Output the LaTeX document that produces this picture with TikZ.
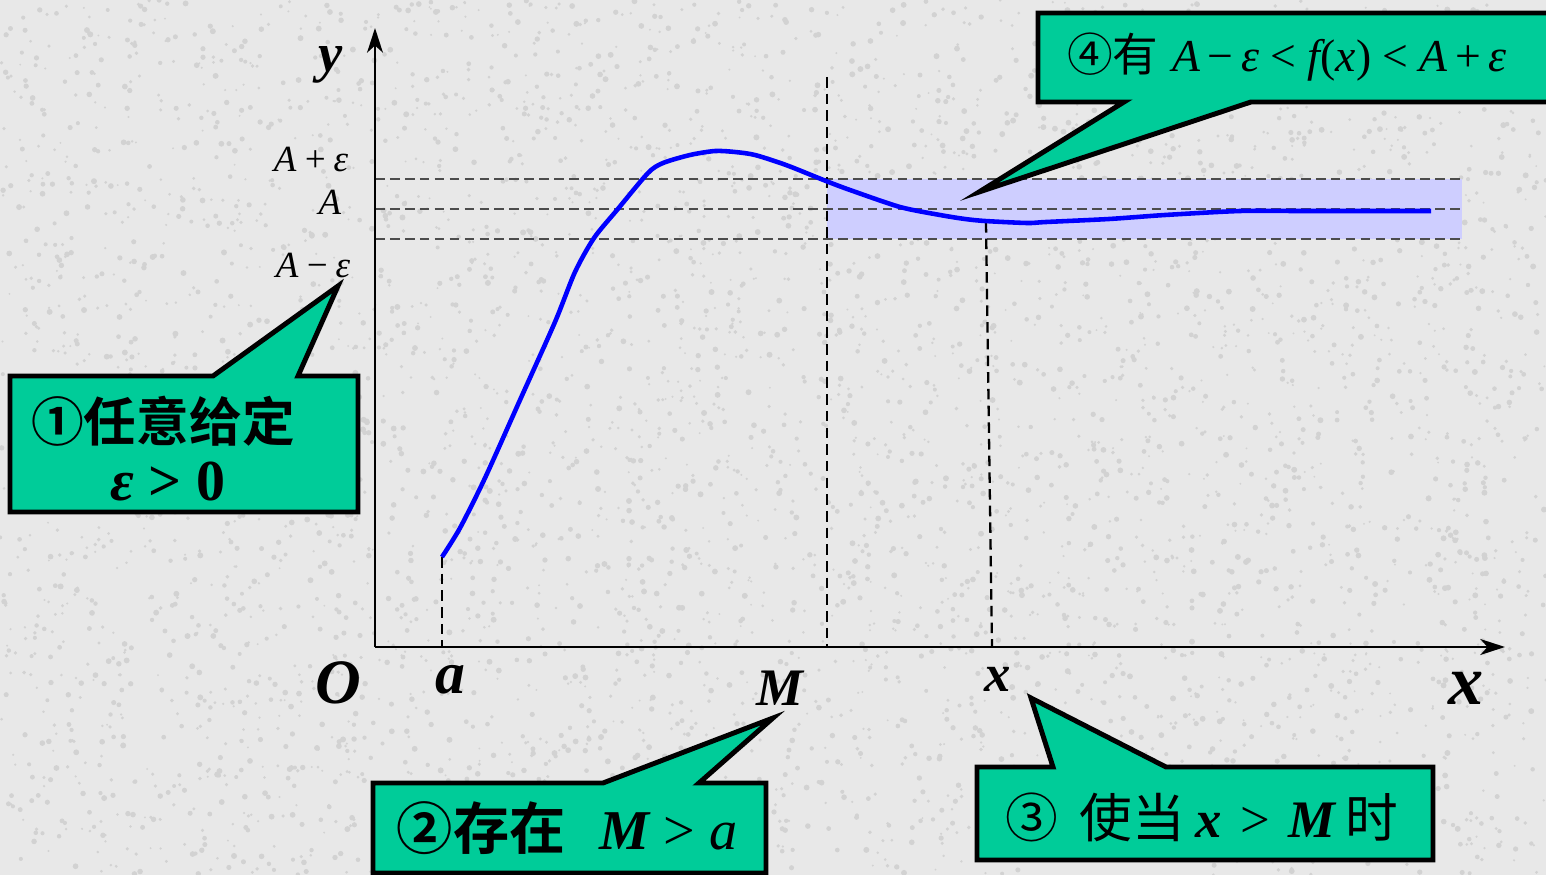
\documentclass[tikz,border=0pt]{standalone}
\usepackage{fontspec}
\setmainfont{Liberation Serif}
\newfontfamily\cjk{Noto Sans CJK SC}
\newfontfamily\cjkb{Noto Sans CJK SC Bold}
\usetikzlibrary{arrows.meta}
\definecolor{bgcol}{RGB}{232,232,232}
\definecolor{speckcol}{RGB}{210,210,210}
\definecolor{calloutgreen}{RGB}{0,204,153}
\definecolor{bandblue}{RGB}{206,206,255}
\newcommand{\fsz}[1]{\fontsize{#1}{#1}\selectfont}

\begin{document}
\begin{tikzpicture}[x=0.02cm, y=-0.02cm, >={Stealth[length=14pt,width=9pt,inset=4pt]},
    callout/.style={draw=black, line width=2.8pt, fill=calloutgreen, line join=miter},
    guide/.style={line width=0.8pt, black!70, dash pattern=on 5.5pt off 3pt},
    vguide/.style={line width=1.3pt, black, dash pattern=on 6pt off 3.5pt},
    axlbl/.style={inner sep=0pt, font=\bfseries\itshape},
    lvllbl/.style={inner sep=0pt, font=\itshape\fsz{21pt}},
    boxtxt/.style={inner sep=0pt, anchor=center}]
    \useasboundingbox (0,0) rectangle (1546,875);
    \fill[bgcol] (0,0) rectangle (1546,875);
    % granite texture
    \pgfmathsetseed{7}
    \foreach \i in {1,...,5000}
        \fill[speckcol] (1546*rnd, 875*rnd) circle ({1+2*rnd});

    % band around A
    \fill[bandblue] (827,179) rectangle (1462,239);
    \foreach \yy in {179,209,239}
        \draw[guide] (375,\yy) -- (1462,\yy);

    % axes
    \coordinate (O) at (375,647);
    \coordinate (xend) at (1505,647);
    \coordinate (yend) at (375,28);
    \draw[line width=1.4pt, ->] (O) -- (xend);
    \draw[line width=1.4pt, ->] (O) -- (yend);

    % vertical guides
    \draw[vguide] (442,557) -- (442,647);
    \draw[vguide] (827,77) -- (827,647);
    \draw[vguide] (986,222) -- (992,647);

    % the curve
    \draw[blue, line width=2.6pt, line join=round] plot[smooth, tension=0.45] coordinates {
        (442,557) (460,528) (485,478) (520,400) (555,322) (575,272) (594,238)
        (617,210) (648,173) (663,163) (690,155) (715,151) (735,152) (755,155)
        (786,165) (826,181) (850,190) (900,207) (940,215) (965,219) (985,221)
        (1027,223) (1046,222) (1109,219) (1165,215) (1240,211) (1300,211) (1431,211)};

    % axis labels
    \node[axlbl, font=\bfseries\itshape\fsz{31pt}] (ylbl) at (331,65) {y};
    \node[lvllbl] (apluslbl) at (311,160) {A\,+\,ε};
    \node[lvllbl] (albl) at (330,202) {A};
    \node[lvllbl] (aminuslbl) at (313,266) {A\,−\,ε};
    \node[axlbl, font=\bfseries\itshape\fsz{36pt}] (olbl) at (338,683) {O};
    \node[axlbl, font=\bfseries\itshape\fsz{34pt}] (albl2) at (450,680) {a};
    \node[axlbl, font=\bfseries\itshape\fsz{30pt}] (mlbl) at (780,688) {M};
    \node[axlbl, font=\bfseries\itshape\fsz{30pt}] (xlbl) at (998,679) {x};
    \node[axlbl, font=\bfseries\itshape\fsz{40pt}] (xaxlbl) at (1466,688) {x};

    % callouts
    \draw[callout] (10,376) -- (213,376) -- (338,286) -- (298,376) -- (358,376)
        -- (358,512) -- (10,512) -- cycle;
    \node[boxtxt, font=\cjkb\fsz{30pt}] (step1a) at (163,421) {①任意给定};
    \node[boxtxt, font=\bfseries\fsz{33pt}] (step1b) at (168,482) {\itshape ε\upshape{} > 0};

    \draw[callout] (373,783) -- (603,783) -- (773,718) -- (699,783) -- (766,783)
        -- (766,873) -- (373,873) -- cycle;
    \node[boxtxt, font=\fsz{32pt}] (step2) at (567,828)
        {{\cjkb ②存在}\hspace{0.6em}{\bfseries\itshape M} > {\itshape a}};

    \draw[callout] (977,767) -- (1053,767) -- (1031,698) -- (1166,767) -- (1433,767)
        -- (1433,860) -- (977,860) -- cycle;
    \node[boxtxt, font=\fsz{30pt}] (step3) at (1202,817)
        {{\cjk ③\hspace{0.4em}使当}\hspace{0.2em}{\bfseries\itshape x} \hspace{0.1em}>\hspace{0.1em} {\bfseries\itshape M}\hspace{0.2em}{\cjk 时}};

    \draw[callout] (1038,13) -- (1560,13) -- (1560,102) -- (1251,102) -- (979,192)
        -- (1124,102) -- (1038,102) -- cycle;
    \node[boxtxt, font=\fsz{26pt}] (step4) at (1287,57)
        {{\cjk ④有}\hspace{0.3em}{\itshape A}\,−\,{\itshape ε} < {\itshape f}(\itshape x\upshape) < {\itshape A}\,+\,{\itshape ε}};
\end{tikzpicture}
\end{document}
